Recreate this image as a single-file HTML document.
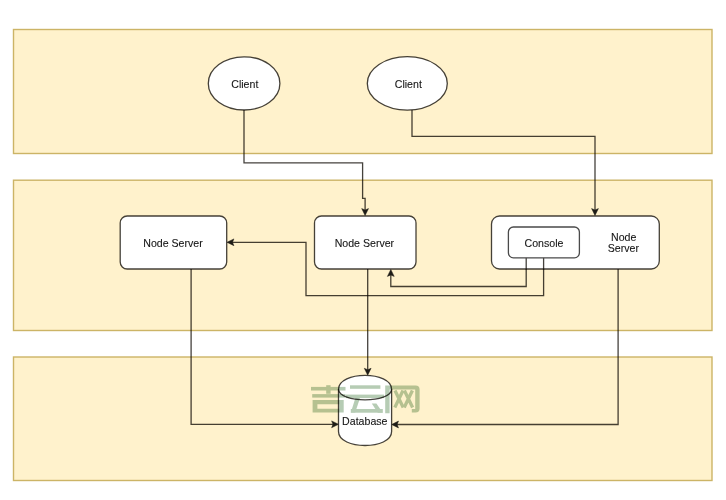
<!DOCTYPE html>
<html><head><meta charset="utf-8"><style>
html,body{margin:0;padding:0;background:#fff;width:726px;height:500px;overflow:hidden}
svg{display:block}
</style></head><body>
<svg width="726" height="500" viewBox="0 0 726 500">
<rect width="726" height="500" fill="#fff"/>
<rect x="13.5" y="29.5" width="698.5" height="124" fill="#fff2cc" stroke="#ccb466" stroke-width="1.4"/>
<rect x="13.5" y="180.2" width="698.5" height="150.3" fill="#fff2cc" stroke="#ccb466" stroke-width="1.4"/>
<rect x="13.5" y="357" width="698.5" height="123.5" fill="#fff2cc" stroke="#ccb466" stroke-width="1.4"/>
<path d="M244.0,110 V162.9 H362.6 V198.3 H365.1 V210" fill="none" stroke="rgba(10,6,0,0.76)" stroke-width="1.3"/>
<path d="M412,110 V136.3 H595 V210" fill="none" stroke="rgba(10,6,0,0.76)" stroke-width="1.3"/>
<path d="M543.6,257.5 V295.6 H306 V242.3 H232" fill="none" stroke="rgba(10,6,0,0.76)" stroke-width="1.3"/>
<path d="M526.2,257.5 V286.5 H390.8 V275" fill="none" stroke="rgba(10,6,0,0.76)" stroke-width="1.3"/>
<path d="M367.7,269 V370" fill="none" stroke="rgba(10,6,0,0.76)" stroke-width="1.3"/>
<path d="M191.1,269 V424.3 H333" fill="none" stroke="rgba(10,6,0,0.76)" stroke-width="1.3"/>
<path d="M618.1,269 V424.5 H397" fill="none" stroke="rgba(10,6,0,0.76)" stroke-width="1.3"/>
<path d="M365.1,215.5 L361.70000000000005,208.6 L365.1,210.0 L368.5,208.6 Z" fill="#1e1c16" stroke="#1e1c16" stroke-width="0.5" stroke-linejoin="miter"/>
<path d="M595,215.5 L591.6,208.6 L595,210.0 L598.4,208.6 Z" fill="#1e1c16" stroke="#1e1c16" stroke-width="0.5" stroke-linejoin="miter"/>
<path d="M227,242.3 L233.9,238.9 L232.5,242.3 L233.9,245.70000000000002 Z" fill="#1e1c16" stroke="#1e1c16" stroke-width="0.5" stroke-linejoin="miter"/>
<path d="M390.8,269.5 L387.40000000000003,276.4 L390.8,275.0 L394.2,276.4 Z" fill="#1e1c16" stroke="#1e1c16" stroke-width="0.5" stroke-linejoin="miter"/>
<path d="M367.7,375.2 L364.3,368.3 L367.7,369.7 L371.09999999999997,368.3 Z" fill="#1e1c16" stroke="#1e1c16" stroke-width="0.5" stroke-linejoin="miter"/>
<path d="M338.5,424.3 L331.6,420.90000000000003 L333.0,424.3 L331.6,427.7 Z" fill="#1e1c16" stroke="#1e1c16" stroke-width="0.5" stroke-linejoin="miter"/>
<path d="M391.6,424.5 L398.5,421.1 L397.1,424.5 L398.5,427.9 Z" fill="#1e1c16" stroke="#1e1c16" stroke-width="0.5" stroke-linejoin="miter"/>
<ellipse cx="244.1" cy="83.4" rx="35.8" ry="26.6" fill="#fff" stroke="rgba(10,6,0,0.76)" stroke-width="1.3"/>
<ellipse cx="407.3" cy="83.4" rx="40" ry="26.7" fill="#fff" stroke="rgba(10,6,0,0.76)" stroke-width="1.3"/>
<rect x="120.2" y="216" width="106.5" height="53" rx="7" fill="#fff" stroke="rgba(10,6,0,0.76)" stroke-width="1.3"/>
<rect x="314.5" y="216" width="101.5" height="53" rx="7" fill="#fff" stroke="rgba(10,6,0,0.76)" stroke-width="1.3"/>
<rect x="491.5" y="216" width="167.8" height="53" rx="8" fill="#fff" stroke="rgba(10,6,0,0.76)" stroke-width="1.3"/>
<path d="M543.6,257.5 V269.5 M526.2,257.5 V269.5" fill="none" stroke="rgba(10,6,0,0.76)" stroke-width="1.3"/>
<rect x="508.4" y="227" width="71" height="30.8" rx="5" fill="#fff" stroke="#4a4a4a" stroke-width="1.3"/>
<path d="M338.5,389.3 C338.5,370.6333333333333 391.6,370.6333333333333 391.6,389.3 L391.6,431.5 C391.6,450.1666666666667 338.5,450.1666666666667 338.5,431.5 Z" fill="#fff" stroke="rgba(10,6,0,0.76)" stroke-width="1.3"/>
<path d="M338.5,389.3 C338.5,403.3 391.6,403.3 391.6,389.3" fill="none" stroke="rgba(10,6,0,0.76)" stroke-width="1.3"/>
<g style="filter:grayscale(1)">
<text x="244.8" y="87.5" text-anchor="middle" font-family="Liberation Sans" font-size="10.6" fill="#151515" stroke="#151515" stroke-width="0.1">Client</text>
<text x="408.3" y="87.5" text-anchor="middle" font-family="Liberation Sans" font-size="10.6" fill="#151515" stroke="#151515" stroke-width="0.1">Client</text>
<text x="173.0" y="246.5" text-anchor="middle" font-family="Liberation Sans" font-size="10.6" fill="#151515" stroke="#151515" stroke-width="0.1">Node Server</text>
<text x="364.4" y="246.5" text-anchor="middle" font-family="Liberation Sans" font-size="10.6" fill="#151515" stroke="#151515" stroke-width="0.1">Node Server</text>
<text x="544.0" y="246.5" text-anchor="middle" font-family="Liberation Sans" font-size="10.6" fill="#151515" stroke="#151515" stroke-width="0.1">Console</text>
<text x="623.7" y="240.5" text-anchor="middle" font-family="Liberation Sans" font-size="10.6" fill="#151515" stroke="#151515" stroke-width="0.1">Node</text>
<text x="623.4" y="252.3" text-anchor="middle" font-family="Liberation Sans" font-size="10.6" fill="#151515" stroke="#151515" stroke-width="0.1">Server</text>
<text x="364.8" y="425.2" text-anchor="middle" font-family="Liberation Sans" font-size="10.6" fill="#151515" stroke="#151515" stroke-width="0.1">Database</text>
</g>
<g fill="rgb(182,204,180)" style="mix-blend-mode:multiply"><rect x="311" y="386.9" width="34.5" height="3.6"/><rect x="326.2" y="385.2" width="4.4" height="8.6"/><rect x="312.2" y="394.1" width="33.3" height="3.5"/><path d="M312.6,400 H343.7 V412.6 H312.6 Z M317.4,404.3 V408.8 H339.2 V404.3 Z" fill-rule="evenodd"/><rect x="350" y="385.3" width="30.4" height="3.5"/><rect x="346" y="394.6" width="38" height="3.5"/><path d="M355.4,398 L360,398 L355.2,412.6 L350.8,412.6 Z"/><rect x="350.8" y="409" width="32" height="3.7"/><path d="M371.8,403.6 L376.4,403.6 L382.8,412.7 L377.8,412.7 Z"/><path d="M385.2,385.6 H415.6 Q419.6,385.6 419.6,389.6 V408.6 Q419.6,412.6 415.6,412.6 H411.8 V409 H415.2 V389.4 H389.6 V413.2 H385.2 Z"/><g stroke="rgb(182,204,180)" stroke-width="3.3" stroke-linecap="butt"><path d="M395,390.5 L403.2,407.5 M403,390.5 L394.8,407.5 M404.4,390.5 L412.6,407.5 M412.4,390.5 L404.2,407.5"/></g></g>
</svg>
</body></html>
